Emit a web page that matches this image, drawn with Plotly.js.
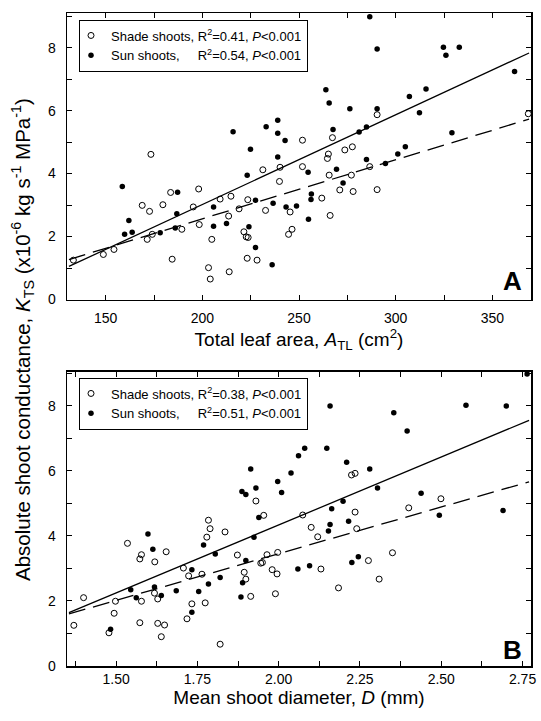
<!DOCTYPE html>
<html><head><meta charset="utf-8">
<script src="https://cdn.plot.ly/plotly-3.0.1.min.js"></script>
<style>html,body{margin:0;padding:0;background:#fff;}#chart{width:541px;height:721px;}</style>
</head><body><div id="chart"></div>
<script>
// Panel A: total leaf area (cm2) vs K_TS
const shadeA_x = [133.3,148.8,154.3,168.9,171.5,172.7,173.4,174.1,179.6,183.6,184.4,189.4,195.3,198.1,198.4,203.2,204.1,204.9,209.2,213.6,213.9,214.8,219.0,221.5,222.7,223.7,223.5,223.2,228.3,231.3,232.7,240.2,239.9,245.4,244.6,246.4,251.8,251.8,261.8,265.2,264.7,267.3,265.6,266.1,271.1,273.7,277.6,277.1,278.0,286.6,290.4,290.4,368.6];
const shadeA_y = [1.25,1.43,1.59,2.99,1.91,2.80,4.61,2.07,3.01,3.40,1.28,2.23,2.94,3.51,2.38,1.01,0.65,1.91,3.19,2.65,0.88,3.28,2.88,2.15,1.99,1.97,3.17,1.31,1.25,4.12,2.83,4.20,3.75,2.78,2.07,2.23,5.06,4.22,3.22,4.62,4.48,5.14,3.95,2.67,3.48,4.75,4.85,3.95,3.43,4.22,5.87,3.49,5.90];
const sunA_x = [158.6,159.8,162.0,163.7,178.2,186.0,186.8,187.2,205.8,205.8,212.5,215.9,223.2,224.9,224.1,227.5,227.5,236.1,233.0,236.6,239.0,239.0,239.0,242.8,243.3,248.7,254.7,256.4,256.2,254.9,263.9,265.6,267.6,269.4,272.8,276.3,281.1,284.9,284.9,286.6,290.4,290.4,294.7,301.1,305.0,307.1,312.3,315.7,324.7,326.0,332.9,329.1,361.5];
const sunA_y = [3.59,2.07,2.51,2.14,2.12,2.27,2.72,3.41,2.94,2.33,2.41,5.33,3.95,4.77,2.31,3.15,1.65,1.10,5.49,3.06,5.69,5.28,4.53,5.05,2.94,2.97,4.04,3.35,3.18,2.55,6.66,6.24,5.40,4.14,3.70,6.06,5.32,5.48,4.45,8.98,7.96,6.06,4.32,4.62,4.85,6.45,5.93,6.69,8.01,7.76,8.01,5.30,7.24];
const fitA_x = [131, 369];
const sunFitA_y = [1.05, 7.83];
const shadeFitA_y = [1.27, 5.73];

// Panel B: mean shoot diameter (mm) vs K_TS
const shadeB_x = [1.370,1.400,1.478,1.494,1.498,1.535,1.573,1.573,1.578,1.578,1.619,1.618,1.628,1.628,1.639,1.649,1.654,1.707,1.723,1.733,1.718,1.764,1.774,1.779,1.784,1.789,1.820,1.835,1.873,1.894,1.899,1.914,1.930,1.954,1.945,1.950,1.964,1.980,1.995,1.990,1.997,2.074,2.100,2.120,2.130,2.184,2.224,2.235,2.235,2.240,2.276,2.309,2.350,2.400,2.499];
const shadeB_y = [1.25,2.10,1.02,1.62,1.99,3.77,1.33,3.29,3.42,1.99,3.20,2.24,2.06,1.31,0.90,1.26,3.51,3.01,2.77,1.91,1.45,2.82,1.94,3.96,4.48,4.22,0.67,4.12,3.41,2.88,2.67,2.14,5.07,4.63,3.16,3.18,3.42,2.96,2.83,2.22,3.49,4.64,4.26,3.97,2.98,2.40,5.87,5.92,4.73,4.22,3.24,2.67,3.48,4.86,5.14];
const sunB_x = [1.483,1.545,1.562,1.598,1.613,1.618,1.639,1.685,1.733,1.733,1.754,1.769,1.784,1.805,1.820,1.887,1.899,1.914,1.930,1.939,1.924,1.899,1.889,1.884,1.997,2.009,2.038,2.061,2.059,2.080,2.148,2.158,2.209,2.280,2.304,2.198,2.163,2.215,2.158,2.153,2.095,2.225,2.245,2.354,2.395,2.438,2.494,2.576,2.700,2.690,2.764];
const sunB_y = [1.13,2.34,2.10,4.06,3.59,2.43,2.17,2.31,1.65,2.96,2.29,3.72,2.52,3.44,2.72,5.36,5.27,6.05,5.47,4.56,3.96,3.24,2.56,2.12,5.67,5.33,5.93,6.46,2.98,6.69,6.69,7.99,6.26,6.05,5.47,5.06,4.83,4.45,4.35,4.15,3.08,3.18,3.36,7.78,7.22,5.31,4.63,8.01,7.99,4.78,8.97];
const fitB_x = [1.355, 2.77];
const sunFitB_y = [1.64, 7.55];
const shadeFitB_y = [1.60, 5.66];

const legendA = ['Shade shoots, R<sup>2</sup>=0.41, <i>P</i>&lt;0.001', 'Sun shoots,\u00a0\u00a0\u00a0\u00a0 R<sup>2</sup>=0.54, <i>P</i>&lt;0.001'];
const legendB = ['Shade shoots, R<sup>2</sup>=0.38, <i>P</i>&lt;0.001', 'Sun shoots,\u00a0\u00a0\u00a0\u00a0 R<sup>2</sup>=0.51, <i>P</i>&lt;0.001'];
const yTitle = 'Absolute shoot conductance, <i>K</i><sub>TS</sub> (x10<sup>-6</sup> kg s<sup>-1</sup> MPa<sup>-1</sup>)';
const xTitleA = 'Total leaf area, <i>A</i><sub>TL</sub> (cm<sup>2</sup>)';
const xTitleB = 'Mean shoot diameter, <i>D</i> (mm)';

const FONT = '"Liberation Sans", Arial, sans-serif';
const W = 541, H = 721;
const openM = {symbol:'circle-open', size:6, color:'#000', line:{width:1, color:'#000'}};
const fillM = {symbol:'circle', size:5.5, color:'#000'};

const traces = [
  {x:fitA_x, y:sunFitA_y, mode:'lines', line:{color:'#000', width:1.3}, showlegend:false, hoverinfo:'skip', xaxis:'x', yaxis:'y'},
  {x:fitA_x, y:shadeFitA_y, mode:'lines', line:{color:'#000', width:1.3, dash:'17px,8px'}, showlegend:false, hoverinfo:'skip', xaxis:'x', yaxis:'y'},
  {x:shadeA_x, y:shadeA_y, mode:'markers', marker:openM, name:legendA[0], xaxis:'x', yaxis:'y', legend:'legend'},
  {x:sunA_x, y:sunA_y, mode:'markers', marker:fillM, name:legendA[1], xaxis:'x', yaxis:'y', legend:'legend'},
  {x:fitB_x, y:sunFitB_y, mode:'lines', line:{color:'#000', width:1.3}, showlegend:false, hoverinfo:'skip', xaxis:'x2', yaxis:'y2'},
  {x:fitB_x, y:shadeFitB_y, mode:'lines', line:{color:'#000', width:1.3, dash:'17px,8px'}, showlegend:false, hoverinfo:'skip', xaxis:'x2', yaxis:'y2'},
  {x:shadeB_x, y:shadeB_y, mode:'markers', marker:openM, name:legendB[0], xaxis:'x2', yaxis:'y2', legend:'legend2'},
  {x:sunB_x, y:sunB_y, mode:'markers', marker:fillM, name:legendB[1], xaxis:'x2', yaxis:'y2', legend:'legend2'}
];

const axBase = {showline:true, linecolor:'#000', linewidth:1.5, mirror:'ticks', showgrid:false, zeroline:false,
  ticks:'inside', ticklen:5, tickwidth:1, tickcolor:'#000', tickfont:{size:14, color:'#000'}, automargin:false, fixedrange:true};
const minorT = {ticks:'inside', ticklen:5, tickwidth:1, tickcolor:'#000', showgrid:false};
const xDom = [67/W, 531/W];
const legBase = {xanchor:'left', yanchor:'top', bgcolor:'#fff', bordercolor:'#000', borderwidth:1, font:{size:13, color:'#000'}, tracegroupgap:0, indentation:-9};

const layout = {
  width:W, height:H, margin:{l:0, r:0, t:0, b:0}, paper_bgcolor:'#fff', plot_bgcolor:'#fff',
  font:{family:FONT, size:14, color:'#000'}, showlegend:true, hovermode:false,
  xaxis: Object.assign({}, axBase, {domain:xDom, anchor:'y', range:[130,370], tick0:150, dtick:50, minor:Object.assign({dtick:25}, minorT), ticklabelstandoff:5,
    title:{text:xTitleA, font:{size:19}, standoff:2}}),
  yaxis: Object.assign({}, axBase, {domain:[1-299.5/H, 1-13/H], anchor:'x', range:[0,9.1], tick0:0, dtick:2, minor:Object.assign({dtick:1}, minorT), ticklabelstandoff:7}),
  xaxis2: Object.assign({}, axBase, {domain:xDom, anchor:'y2', range:[1.349,2.776], tick0:1.5, dtick:0.25, tickformat:'.2f', minor:Object.assign({dtick:0.125}, minorT), ticklabelstandoff:0,
    title:{text:xTitleB, font:{size:19}, standoff:3}}),
  yaxis2: Object.assign({}, axBase, {domain:[1-666/H, 1-371.5/H], anchor:'x2', range:[0,9.05], tick0:0, dtick:2, minor:Object.assign({dtick:1}, minorT), ticklabelstandoff:7}),
  legend: Object.assign({x:79/W, y:1-19.5/H}, legBase),
  legend2: Object.assign({x:79/W, y:1-377.5/H}, legBase),
  annotations: [
    {text:yTitle, xref:'paper', yref:'paper', x:22/W, y:1-340/H, xanchor:'center', yanchor:'middle', textangle:-90, showarrow:false, font:{size:20.5, color:'#000'}},
    {text:'<b>A</b>', xref:'paper', yref:'paper', x:512/W, y:1-281/H, xanchor:'center', yanchor:'middle', showarrow:false, font:{size:26, color:'#000'}},
    {text:'<b>B</b>', xref:'paper', yref:'paper', x:512/W, y:1-650/H, xanchor:'center', yanchor:'middle', showarrow:false, font:{size:26, color:'#000'}}
  ]
};

Plotly.newPlot('chart', traces, layout, {displayModeBar:false, staticPlot:true});
</script></body></html>
